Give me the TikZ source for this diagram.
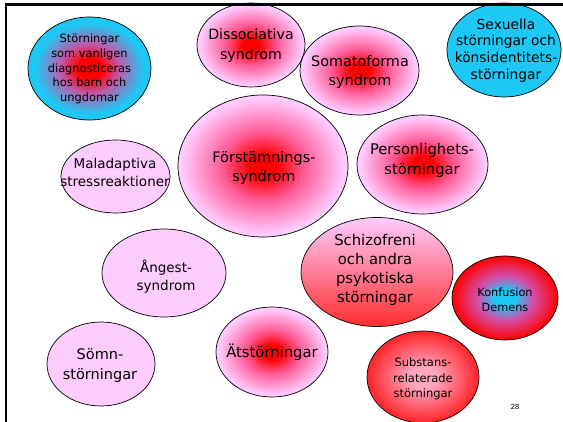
\documentclass[tikz,border=0pt]{standalone}
\usepackage{fontspec}
\setmainfont{DejaVu Sans}
\newfontfamily\pagenofont{Liberation Sans}
\usetikzlibrary{shapes.geometric}
\definecolor{pinkc}{RGB}{255,204,255}
\definecolor{bluec}{RGB}{30,200,245}
\definecolor{redc}{RGB}{255,0,0}
\definecolor{redmid}{RGB}{255,90,150}
\definecolor{bluemid}{RGB}{190,90,170}
\definecolor{konfmid}{RGB}{210,80,170}
\definecolor{substin}{RGB}{255,165,190}
\definecolor{schizbot}{RGB}{255,45,45}
\pgfdeclareradialshading{rpink}{\pgfpoint{0bp}{0bp}}{color(0bp)=(redc); color(4bp)=(redc); color(12bp)=(redmid); color(24bp)=(pinkc); color(50bp)=(pinkc)}
\pgfdeclareradialshading{rblue}{\pgfpoint{0bp}{0bp}}{color(0bp)=(redc); color(5bp)=(redc); color(12bp)=(bluemid); color(22bp)=(bluec); color(50bp)=(bluec)}
\pgfdeclareradialshading{bred}{\pgfpoint{0bp}{0bp}}{color(0bp)=(bluec); color(5bp)=(bluec); color(13bp)=(konfmid); color(25bp)=(redc); color(50bp)=(redc)}
\pgfdeclareradialshading{sred}{\pgfpoint{0bp}{0bp}}{color(0bp)=(substin); color(6bp)=(substin); color(30bp)=(redc); color(50bp)=(redc)}
\tikzset{
  bubble/.style={ellipse, draw=black, line width=0.7pt, inner sep=0pt},
  plainpink/.style={bubble, fill=pinkc},
  redpink/.style={bubble, shading=rpink},
  redblue/.style={bubble, shading=rblue},
  plainblue/.style={bubble, fill=bluec},
  bluered/.style={bubble, shading=bred},
  substshade/.style={bubble, shading=sred},
  schizshade/.style={bubble, shading=axis, top color=pinkc, bottom color=schizbot},
  txt/.style={align=center, inner sep=0pt, text=black},
  frameline/.style={line width=2.5pt, draw=black}
}
\newcommand{\fs}[2]{\fontsize{#1}{#2}\selectfont}
\begin{document}
\begin{tikzpicture}[x=1pt,y=-1pt]
\useasboundingbox (0,0) rectangle (563,422);
\fill[white] (0,0) rectangle (563,422);

% bubbles
\node[redblue, minimum width=123pt, minimum height=103pt] (barn) at (89.5,68.5) {};
\node[redpink, minimum width=108pt, minimum height=84pt] (diss) at (251,45) {};
\node[redpink, minimum width=119pt, minimum height=89pt] (soma) at (359.5,70.5) {};
\node[plainblue, minimum width=114pt, minimum height=94pt] (sex) at (504,50) {};
\node[plainpink, minimum width=109pt, minimum height=73pt] (mal) at (115.5,176.5) {};
\node[redpink, minimum width=170pt, minimum height=142pt] (forst) at (263,166) {};
\node[redpink, minimum width=131pt, minimum height=99pt] (pers) at (422.5,164.5) {};
\node[schizshade, minimum width=152pt, minimum height=109pt] (schiz) at (377,272) {};
\node[bluered, minimum width=106pt, minimum height=84pt] (konf) at (505,298) {};
\node[plainpink, minimum width=124pt, minimum height=88pt] (angest) at (164,273) {};
\node[plainpink, minimum width=108pt, minimum height=84pt] (somn) at (101,364) {};
\node[redpink, minimum width=112pt, minimum height=90pt] (atst) at (272,352) {};
\node[substshade, minimum width=112pt, minimum height=92pt] (subst) at (423,377) {};

% texts
\node[txt, font=\fs{11.4}{14.7}] (tbarn) at (89.5,69) {Störningar\\som vanligen\\diagnosticeras\\hos barn och\\ungdomar};
\node[txt, font=\fs{14.2}{20}] (tdiss) at (251,45.5) {Dissociativa\\syndrom};
\node[txt, font=\fs{14.4}{19}] (tsoma) at (360,72) {Somatoforma\\syndrom};
\node[txt, font=\fs{13.8}{16.7}] (tsex) at (506,50.5) {Sexuella\\störningar och\\könsidentitets-\\störningar};
\node[txt, font=\fs{13.5}{18}] (tmal) at (115,172.5) {Maladaptiva\\stressreaktioner};
\node[txt, font=\fs{14.5}{19.5}] (tforst) at (264,168) {Förstämnings-\\syndrom};
\node[txt, font=\fs{14.7}{20}] (tpers) at (422,160.5) {Personlighets-\\störningar};
\node[txt, font=\fs{14.8}{19}] (tschiz) at (375,269.5) {Schizofreni\\och andra\\psykotiska\\störningar};
\node[txt, font=\fs{11.3}{15}] (tkonf) at (505,300) {Konfusion\\Demens};
\node[txt, font=\fs{13.5}{18}] (tang) at (166,276.5) {Ångest-\\syndrom};
\node[txt, font=\fs{14.5}{20}] (tsomn) at (100,365.5) {Sömn-\\störningar};
\node[txt, font=\fs{14.8}{18}] (tatst) at (272,352.5) {Ätstörningar};
\node[txt, font=\fs{11.5}{15.5}] (tsubst) at (423,379) {Substans-\\relaterade\\störningar};
\node[txt, font=\pagenofont\fontsize{7.5}{9}\selectfont] (pageno) at (515,406.5) {28};

% slide frame
\draw[frameline] (6,422) -- (6,4.5) -- (563,4.5);
\end{tikzpicture}
\end{document}
